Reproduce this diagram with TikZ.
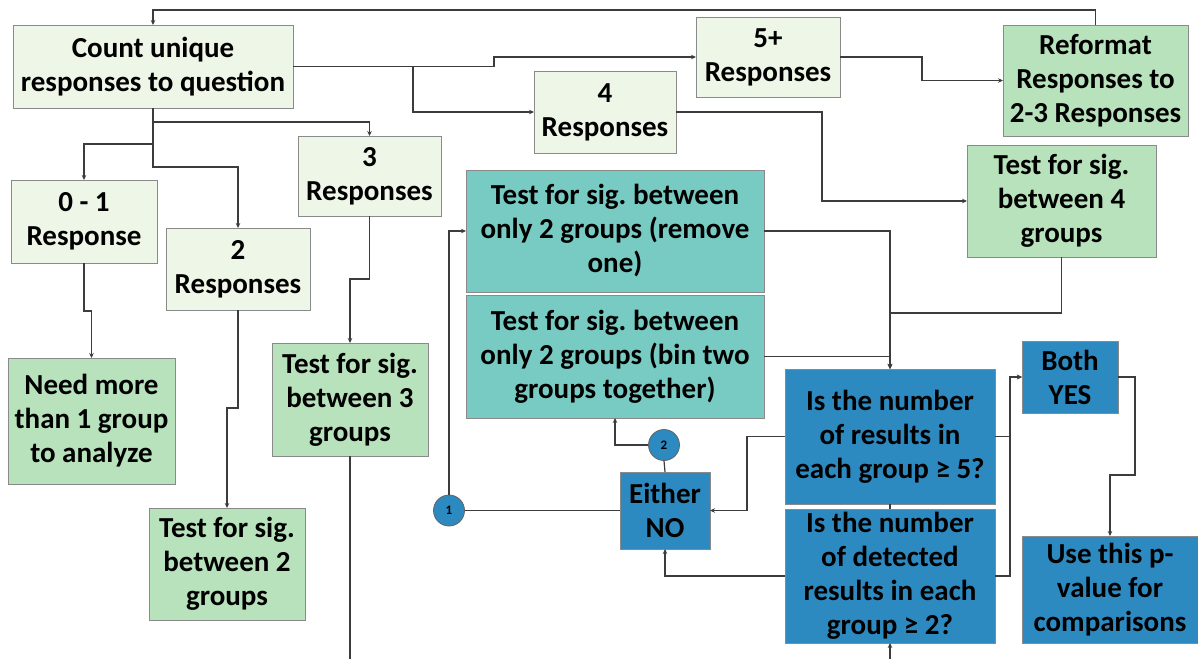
\documentclass[tikz,border=0pt]{standalone}
\usepackage{fontspec}
\setmainfont{Carlito}
\usepackage{xcolor}
\usetikzlibrary{arrows.meta,positioning,calc}
\frenchspacing
\definecolor{paleleaf}{HTML}{EEF6E8}
\definecolor{leaf}{HTML}{B7E2BB}
\definecolor{aqua}{HTML}{78CBC3}
\definecolor{ocean}{HTML}{2D8AC0}
\definecolor{rim}{HTML}{8A8A8A}
\definecolor{wire}{HTML}{3C3C3C}
\tikzset{
    every picture/.style={line join=miter},
    basebox/.style={draw=rim,line width=0.9pt,inner sep=0pt,outer sep=0pt,
      align=center,font=\bfseries\fontsize{29}{34}\selectfont},
    askbox/.style={basebox,fill=paleleaf},
    testbox/.style={basebox,fill=leaf},
    fixbox/.style={basebox,fill=aqua},
    checkbox/.style={basebox,fill=ocean},
    marker/.style={circle,draw=wire!80,fill=ocean,line width=0.8pt,
      minimum size=31pt,inner sep=0pt,font=\bfseries\fontsize{13}{13}\selectfont},
    flowarrow/.style={-{Stealth[length=5pt,width=4.5pt]},draw=wire,line width=1.2pt},
    flowline/.style={draw=wire,line width=1.2pt}
}
\begin{document}
\begin{tikzpicture}[x=1pt,y=-1pt]
  \useasboundingbox (0,0) rectangle (1198,659);
  % response counts
  \node[askbox,minimum width=280,minimum height=83] (count) at (153,66.5) {Count unique\\responses to question};
  \node[askbox,minimum width=144,minimum height=80] (five) at (768,57) {5+\\Responses};
  \node[askbox,minimum width=142,minimum height=82] (four) at (605,112) {4\\Responses};
  \node[askbox,minimum width=143,minimum height=80] (three) at (369.5,176) {3\\Responses};
  \node[askbox,minimum width=146,minimum height=83] (zeroone) at (84,221.5) {0 - 1\\Response};
  \node[askbox,minimum width=144,minimum height=82] (two) at (238,269) {2\\Responses};

  \node[testbox,minimum width=185,minimum height=111] (reformat) at (1095.5,80.5) {Reformat\\Responses to\\2-3 Responses};
  \node[testbox,minimum width=189,minimum height=112] (testfour) at (1061.5,201) {Test for sig.\\between 4\\groups};
  \node[testbox,minimum width=167,minimum height=126] (needmore) at (91.5,421) {Need more\\than 1 group\\to analyze};
  \node[testbox,minimum width=156,minimum height=113] (testthree) at (350,399.5) {Test for sig.\\between 3\\groups};
  \node[testbox,minimum width=156,minimum height=112] (testtwo) at (227,564) {Test for sig.\\between 2\\groups};

  \node[fixbox,minimum width=298,minimum height=122] (removeone) at (615,231) {Test for sig. between\\only 2 groups (remove\\one)};
  \node[fixbox,minimum width=298,minimum height=123] (bintwo) at (615,356.5) {Test for sig. between\\only 2 groups (bin two\\groups together)};

  \node[checkbox,minimum width=210,minimum height=135] (atleastfive) at (890,436.5) {Is the number\\of results in\\each group ≥ 5?};
  \node[checkbox,minimum width=210,minimum height=134] (atleasttwo) at (890,576) {Is the number\\of detected\\results in each\\group ≥ 2?};
  \node[checkbox,minimum width=96,minimum height=72] (bothyes) at (1070,377) {Both\\YES};
  \node[checkbox,minimum width=176,minimum height=107] (usepvalue) at (1110,589.5) {Use this p-\\value for\\comparisons};
  \node[checkbox,minimum width=90,minimum height=77] (eitherno) at (665,510.5) {Either\\NO};

  \node[marker] (markone) at (449,510.5) {1};
  \node[marker] (marktwo) at (664,445) {2};

  % loose ends that run past the lower edge
  \coordinate (offthree) at (350,659);
  \coordinate (offcheck) at (890,659);

  \draw[flowarrow] (reformat.north) -- ++(0,-15) -| (count.north);
  \draw[flowarrow] (count.east) -- ++(201,0) |- (five.west);
  \draw[flowarrow] (count.east) -- ++(120,0) |- (four.west);
  \draw[flowarrow] (count.south) -- ++(0,14) -| (three.north);
  \draw[flowarrow] (count.south) -- ++(0,36) -| (zeroone.north);
  \draw[flowarrow] (count.south) -- ++(0,59) -| (two.north);
  \draw[flowarrow] (zeroone.south) -- ++(0,48) -| (needmore.north);
  \draw[flowarrow] (two.south) -- ++(0,98) -| (testtwo.north);
  \draw[flowarrow] (three.south) -- ++(0,63) -| (testthree.north);
  \draw[flowline] (testthree.south) -- (offthree);
  \draw[flowarrow] (four.east) -- ++(146,0) |- (testfour.west);
  \draw[flowarrow] (five.east) -- ++(82,0) |- (reformat.west);

  \draw[flowarrow] (removeone.east) -| (atleastfive.north);
  \draw[flowarrow] (bintwo.east) -| (atleastfive.north);
  \draw[flowarrow] (testfour.south) -- ++(0,56) -| (atleastfive.north);
  \draw[flowline] (atleastfive.south) -- (atleasttwo.north);
  \draw[flowarrow] (offcheck) -- (atleasttwo.south);

  \draw[flowarrow] (atleastfive.east) -- ++(15,0) |- (bothyes.west);
  \draw[flowarrow] (atleasttwo.east) -- ++(15,0) |- (bothyes.west);
  \draw[flowarrow] (bothyes.east) -- ++(17,0) -- ++(0,98) -| (usepvalue.north);

  \draw[flowarrow] (atleastfive.west) -- ++(-38,0) |- (eitherno.east);
  \draw[flowarrow] (atleasttwo.west) -| (eitherno.south);
  \draw[flowline] (eitherno.west) -- (markone.east);
  \draw[flowarrow] (markone.north) |- (removeone.west);
  \draw[flowline] (eitherno.north) -- (marktwo.south);
  \draw[flowarrow] (marktwo.west) -| (bintwo.south);
\end{tikzpicture}
\end{document}
